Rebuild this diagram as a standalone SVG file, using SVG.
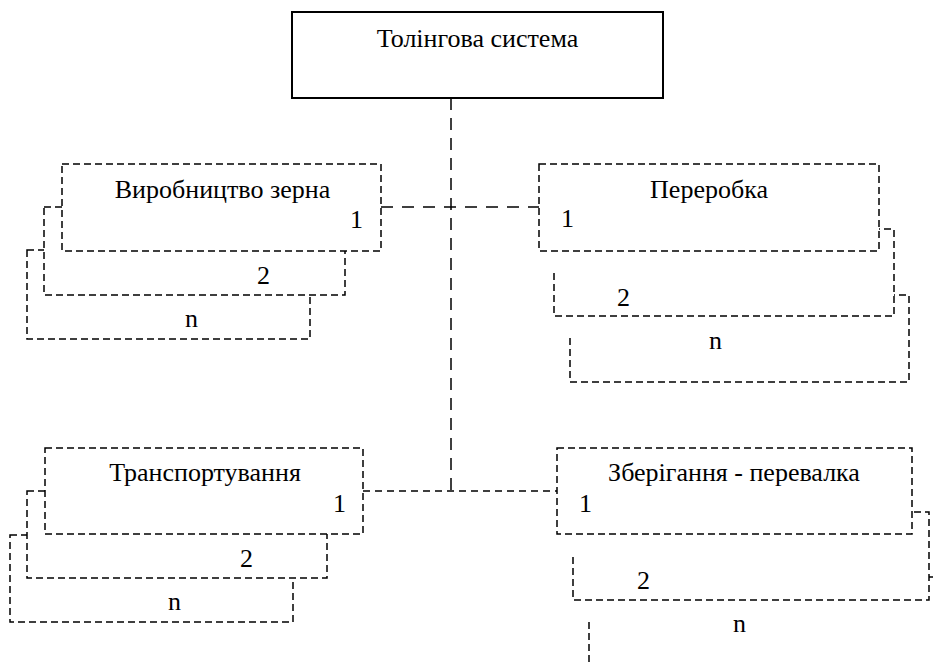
<svg xmlns="http://www.w3.org/2000/svg" width="933" height="662" viewBox="0 0 933 662">
<style>
text{font-family:"Liberation Serif","Times New Roman",serif;font-size:26px;fill:#000}
.c{text-anchor:middle}
.b{fill:#fff;stroke:#000;stroke-width:1.5;stroke-dasharray:7 4}
.top{fill:#fff;stroke:#000;stroke-width:2}
.l{fill:none;stroke:#000;stroke-width:1.5}
</style>
<rect width="933" height="662" fill="#fff"/>
<g id="connectors">
<path class="l" d="M451,98 V491" stroke-dasharray="12 8"/>
<path class="l" d="M381,207 H539" stroke-dasharray="12 9"/>
<path class="l" d="M363,491 H557" stroke-dasharray="7 5"/>
</g>
<g id="tolling">
<rect class="top" x="292" y="12" width="371" height="86"/>
<text class="c" x="477.5" y="47">Толінгова система</text>
</g>
<g id="production">
<rect class="b" x="27" y="250" width="283" height="89"/>
<rect class="b" x="44" y="207" width="301" height="88"/>
<rect class="b" x="62" y="164" width="319" height="87"/>
<text class="c" x="222.5" y="198">Виробництво зерна</text>
<text x="350" y="228">1</text>
<text x="257" y="284">2</text>
<text x="185" y="327">n</text>
</g>
<g id="processing">
<path class="b" d="M570,338 V382 H909 V295 H570"/>
<path class="b" d="M554,273 V316 H894 V229 H554"/>
<rect class="b" x="539" y="164" width="340" height="87"/>
<text class="c" x="709" y="198">Переробка</text>
<text x="561" y="227">1</text>
<text x="617" y="306">2</text>
<text x="709" y="349">n</text>
</g>
<g id="transport">
<rect class="b" x="10" y="535" width="283" height="87"/>
<rect class="b" x="27" y="491" width="300" height="87"/>
<rect class="b" x="45" y="448" width="318" height="86"/>
<text class="c" x="205" y="481">Транспортування</text>
<text x="333" y="512">1</text>
<text x="240" y="567">2</text>
<text x="168" y="610">n</text>
</g>
<g id="storage">
<path class="b" d="M589,622 V670 H945 V577 H589"/>
<path class="b" d="M573,557 V600 H929 V512 H573"/>
<rect class="b" x="557" y="448" width="355" height="86"/>
<text class="c" x="734" y="481">Зберігання - перевалка</text>
<text x="579" y="512">1</text>
<text x="637" y="589">2</text>
<text x="733" y="632">n</text>
</g>
</svg>
